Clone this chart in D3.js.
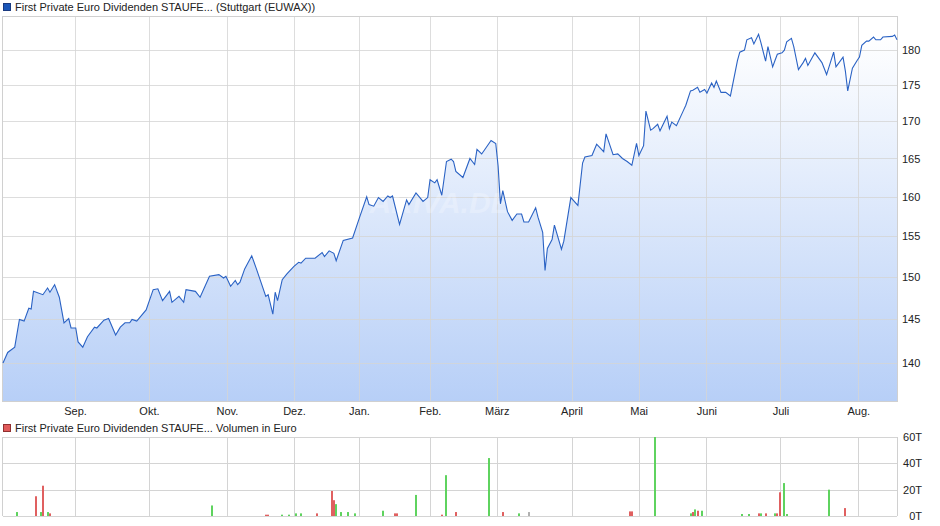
<!DOCTYPE html>
<html lang="de">
<head>
<meta charset="utf-8">
<title>Chart</title>
<script src="https://cdn.jsdelivr.net/npm/d3@7/dist/d3.min.js"></script>
<style>
  body { margin: 0; background: #fff; }
  text { font-family: "Liberation Sans", Arial, sans-serif; font-size: 11px; fill: #222; }
</style>
</head>
<body>
<script>
// x axis runs on a chart-day index (0 .. endDay)
var endDay = 381;

// price: day index and value
var priceDays = [0,2,5,7,9,11,12,13,17,19,20,22,24,26,28,29,31,32,34,36,39,40,43,45,48,50,52,54,55,57,61,64,66,68,71,72,75,77,78,82,84,88,92,94,95,97,99,100,101,103,106,108,112,113,115,116,117,119,121,124,126,127,129,133,136,137,139,141,142,145,149,152,155,156,158,160,162,164,165,166,169,172,173,176,179,181,182,184,185,187,189,191,192,193,196,199,
  201,202,204,206,208,210,211,212,213,215,217,219,221,222,224,227,228,230,231,232,234,235,238,239,242,245,247,248,251,253,256,257,260,262,264,266,268,270,271,273,274,276,277,279,280,283,284,285,287,290,291,293,294,296,297,299,300,302,303,304,306,308,310,313,314,316,317,319,320,322,323,325,326,328,329,330,332,333,334,336,337,339,341,342,343,345,346,349,351,354,355,358,359,360,362,364,365,366,368,369,371,372,374,375,379,380,381];
var priceValues = [140,141.2,141.8,145,144.8,146.3,146.2,148.3,147.9,148.7,148.2,149.1,147.6,144.6,145.1,144,144,142.4,141.8,143,144.1,144,144.9,145.1,143.2,144.1,144.6,144.6,145,144.8,146.1,148.5,148.6,147.2,148.3,147,147.7,147,148.5,148.3,147.6,150.1,150.3,149.9,150.1,148.9,149.6,149.1,149.4,151,152.6,151,147.7,147.9,145.6,148.2,147.2,149.7,150.4,151.3,151.8,151.7,152.3,152.3,153,152.5,153.2,152.9,152,154.5,154.8,157.4,160,159,158.8,159.9,159.4,160.1,159.9,160.1,156.5,159.6,159,160.5,159.4,159.9,162.2,161.8,162.2,160.2,164.6,164.9,164.6,163.3,162.5,165,
  164.2,166.2,165.6,166.5,167.4,167,164,159.1,160.8,158.1,157,157.8,157.8,156.8,156.8,158.6,157.4,155.5,150.8,153.5,154.6,156.4,153.4,154.4,159.9,158.9,164.4,165.2,165.4,166.9,165.9,168.3,165.5,165.6,165,164.6,164.1,167,165.4,166.7,171.4,168.8,169,169.6,168.7,170.7,169,169.9,169.4,171.5,172.2,174.2,174.3,174.7,174,174.4,173.9,175.3,174.7,175.6,174,174,173.5,178.5,179.7,180,181.5,181.8,180.9,182.3,181.1,178.4,180.5,177.6,178.5,179.4,179.6,180,181.2,181.7,180.5,177.2,178.2,178.8,177.8,179,179.6,178.2,176.5,179.7,177.6,179,177,174.2,177.4,178.5,179,180.7,181.3,181.3,181.9,181.5,181.5,181.9,182,182.2,181.5];

// volume in thousands of euro
var volDays = [6,14,16,17,19,20,89,112,113,119,122,125,127,134,140,141,142,144,147,150,162,167,168,176,187,189,193,207,213,220,224,267,268,278,293,294,295,296,298,315,318,322,323,325,329,330,331,333,334,352,359];
var volValues = [3,15,3,23,3,2,8,1,1,1,1,2,2,2,19,12,9,3,3,2,4,2,2,16,1,31,3,44,3,2,3,3.5,3.5,60,2,3,5,4,4,1.5,1.5,2,2,2,2,2,18,25,1.5,20,6];
var volDir = ["g","r","g","r","g","r","g","r","r","g","g","g","g","r","r","r","g","g","g","g","g","r","r","g","r","g","r","g","r","g","n","r","r","g","g","r","g","r","g","g","g","r","g","r","g","r","r","g","g","g","r"];

// month starts on the day index
var monthTickDays = [30.7,62.2,95.4,124,151.7,181.9,210.4,242.3,270.9,299.8,331.3,364.5];
var monthLabels = ["Sep.","Okt.","Nov.","Dez.","Jan.","Feb.","März","April","Mai","Juni","Juli","Aug."];
var priceTicks = [140,145,150,155,160,165,170,175,180];
var volTicks = [0,20,40,60];

var W = 940, H = 526;
var left = 3, right = 897;
var svg = d3.select("body").append("svg").attr("width", W).attr("height", H);

var x = d3.scaleLinear().domain([0, endDay]).range([left, right]);
var y = d3.scaleLog().domain([135.8, 185]).range([401, 16]);
var yv = d3.scaleLinear().domain([0, 60]).range([516, 437]);

// gradient for area
var grad = svg.append("defs").append("linearGradient").attr("id", "fillGrad")
  .attr("x1", 0).attr("y1", 0).attr("x2", 0).attr("y2", 1);
grad.append("stop").attr("offset", "0%").attr("stop-color", "#ffffff");
grad.append("stop").attr("offset", "100%").attr("stop-color", "#b7cff7");

var pts = priceDays.map(function(d, i) { return { d: d, v: priceValues[i] }; });

// price area
svg.append("path").datum(pts)
  .attr("d", d3.area().x(function(p) { return x(p.d); }).y0(401).y1(function(p) { return y(p.v); }))
  .attr("fill", "url(#fillGrad)");

// grid top panel
var gTop = svg.append("g");
gTop.selectAll("line.h").data(priceTicks).enter().append("line")
  .attr("x1", left).attr("x2", right).attr("y1", function(d) { return Math.round(y(d)) + 0.5; })
  .attr("y2", function(d) { return Math.round(y(d)) + 0.5; })
  .attr("stroke", "#d4d4d4").attr("stroke-opacity", 0.8);
gTop.selectAll("line.v").data(monthTickDays).enter().append("line")
  .attr("x1", function(d) { return Math.round(x(d)) + 0.5; }).attr("x2", function(d) { return Math.round(x(d)) + 0.5; })
  .attr("y1", 16).attr("y2", 401)
  .attr("stroke", "#d4d4d4").attr("stroke-opacity", 0.8);
gTop.append("rect").attr("x", left - 0.5).attr("y", 16.5).attr("width", right - left + 1).attr("height", 385)
  .attr("fill", "none").attr("stroke", "#d0d0d0");

// watermark
svg.append("text").attr("x", 440).attr("y", 213).attr("text-anchor", "middle")
  .style("font-size", "30px").style("font-style", "italic").style("font-weight", "bold")
  .style("fill", "#ffffff").style("fill-opacity", 0.25).text("ARIVA.DE");

// price line
svg.append("path").datum(pts)
  .attr("d", d3.line().x(function(p) { return x(p.d); }).y(function(p) { return y(p.v); }))
  .attr("fill", "none").attr("stroke", "#2a62c4").attr("stroke-width", 1.1);

// axes top
var yAxis = d3.axisRight(y).tickValues(priceTicks).tickSize(0).tickPadding(5).tickFormat(d3.format("d"));
svg.append("g").attr("transform", "translate(" + right + ",0)").call(yAxis)
  .call(function(g) { g.select(".domain").remove(); });
var xAxis = d3.axisBottom(x).tickValues(monthTickDays).tickSize(0).tickPadding(6)
  .tickFormat(function(d, i) { return monthLabels[i]; });
svg.append("g").attr("transform", "translate(0,401)").call(xAxis)
  .call(function(g) { g.select(".domain").remove(); });
svg.selectAll(".tick text").style("font-family", "'Liberation Sans', Arial, sans-serif").style("font-size", "11px").attr("fill", "#222");

// legends
svg.append("rect").attr("x", 3.5).attr("y", 3.5).attr("width", 7).attr("height", 7).attr("fill", "#1a56b8").attr("stroke", "#1a3a80");
svg.append("text").attr("x", 15).attr("y", 11).text("First Private Euro Dividenden STAUFE... (Stuttgart (EUWAX))");
svg.append("rect").attr("x", 3.5).attr("y", 424.5).attr("width", 7).attr("height", 7).attr("fill", "#e05a5a").attr("stroke", "#903030");
svg.append("text").attr("x", 15).attr("y", 432).text("First Private Euro Dividenden STAUFE... Volumen in Euro");

// volume panel grid
var gBot = svg.append("g");
gBot.selectAll("line.h").data(volTicks).enter().append("line")
  .attr("x1", left).attr("x2", right).attr("y1", function(d) { return Math.round(yv(d)) + 0.5; })
  .attr("y2", function(d) { return Math.round(yv(d)) + 0.5; })
  .attr("stroke", "#d4d4d4");
gBot.selectAll("line.v").data(monthTickDays).enter().append("line")
  .attr("x1", function(d) { return Math.round(x(d)) + 0.5; }).attr("x2", function(d) { return Math.round(x(d)) + 0.5; })
  .attr("y1", 437).attr("y2", 516).attr("stroke", "#d4d4d4");
gBot.append("line").attr("x1", left - 0.5).attr("x2", left - 0.5).attr("y1", 437).attr("y2", 516).attr("stroke", "#d0d0d0");
gBot.append("line").attr("x1", right + 0.5).attr("x2", right + 0.5).attr("y1", 437).attr("y2", 516).attr("stroke", "#d0d0d0");

var colors = { g: "#5fd35f", r: "#e06060", n: "#b0b0b0" };
svg.selectAll("rect.vol").data(volDays).enter().append("rect")
  .attr("x", function(d) { return Math.round(x(d)) - 1; })
  .attr("width", 2)
  .attr("y", function(d, i) { return yv(volValues[i]); })
  .attr("height", function(d, i) { return 516 - yv(volValues[i]); })
  .attr("fill", function(d, i) { return colors[volDir[i]]; });

var vAxis = d3.axisRight(yv).tickValues(volTicks).tickSize(0).tickPadding(4)
  .tickFormat(function(d) { return d + "T"; });
svg.append("g").attr("transform", "translate(" + right + ",0)").call(vAxis)
  .call(function(g) { g.select(".domain").remove(); })
  .selectAll("text").attr("text-anchor", "end").attr("x", 922 - right)
  .style("font-family", "'Liberation Sans', Arial, sans-serif").style("font-size", "11px").attr("fill", "#222");
</script>
</body>
</html>
